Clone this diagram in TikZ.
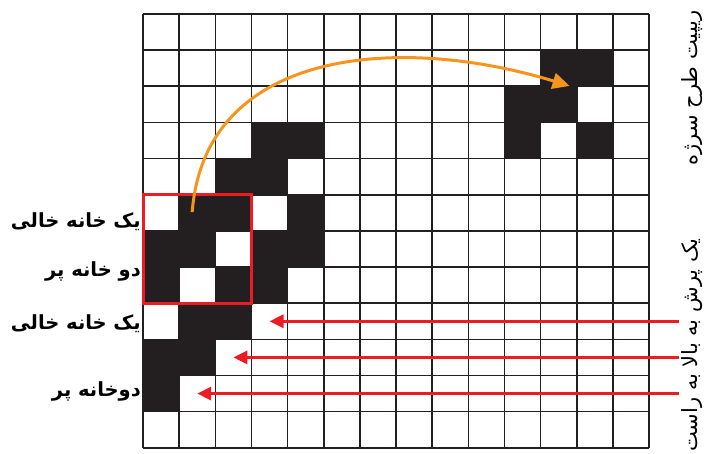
\documentclass[tikz,border=0pt]{standalone}
\usepackage{fontspec}
\setmainfont{DejaVu Sans}
\newfontfamily\farsi[Script=Arabic]{DejaVu Sans}
\TeXXeTstate=1
\usepackage{tikz}
\usetikzlibrary{ positioning, arrows.meta, calc }
\usepackage{xcolor}
\definecolor{cellink}{HTML}{231F20}
\definecolor{jumpred}{HTML}{ED1C24}
\definecolor{repeatorange}{HTML}{F7941D}

\newcommand{\fatext}[1]{{\farsi\beginR #1\endR}}

\begin{document}
\begin{tikzpicture}[x=1pt, y=-1pt,
    every node/.style={inner sep=0pt},
    gridline/.style={cellink, line width=1.6pt},
    rowlbl/.style={anchor=east, font=\fontsize{19.5}{22}\selectfont\bfseries},
    sidelbl/.style={rotate=90, font=\fontsize{21}{24}\selectfont},
    jumparrow/.style={jumpred, line width=3.2pt, -{Triangle[length=14pt, width=13pt]}},
    repeatarrow/.style={repeatorange, line width=3pt, -{Triangle[length=17pt, width=16pt]}}]
  \useasboundingbox (0,0) rectangle (710,454);
  \fill[white] (0,0) rectangle (710,454);

  % pattern cells, one unit = one cell
  \begin{scope}[shift={(143,14)}, x=36.15pt, y=-36.15pt]
    \foreach \c/\r in {11/1,12/1,10/2,11/2,3/3,4/3,10/3,12/3,2/4,3/4,
                       1/5,2/5,4/5,0/6,1/6,3/6,4/6,0/7,2/7,3/7,
                       1/8,2/8,0/9,1/9,0/10}
      \fill[cellink] (\c,\r) rectangle ++(1,1);
    \foreach \i in {0,...,14}
      \draw[gridline] (\i,0) -- (\i,12);
    \foreach \j in {0,...,12}
      \draw[gridline] (0,\j) -- (14,\j);

    % repeated unit
    \draw[jumpred, line width=3pt] (0,5) rectangle (3,8);

    % jump ends
    \coordinate (tipA) at (3.5,8.5);
    \coordinate (tipB) at (2.5,9.5);
    \coordinate (tipC) at (1.5,10.5);
    \coordinate (tailA) at (14.83,8.5);
    \coordinate (tailB) at (14.83,9.5);
    \coordinate (tailC) at (14.83,10.5);
    \coordinate (arcstart) at (1.36,5.48);
    \coordinate (arcend) at (11.8,1.99);
  \end{scope}

  \draw[jumparrow] (tailA) -- (tipA);
  \draw[jumparrow] (tailB) -- (tipB);
  \draw[jumparrow] (tailC) -- (tipC);

  % copy of the unit
  \draw[repeatarrow] (arcstart) .. controls (205,48) and (400,34) .. (arcend);

  % row labels
  \node[rowlbl] (empty1) at (141,222) {\fatext{یک خانه خالی}};
  \node[rowlbl] (full1) at (141,271) {\fatext{دو خانه پر}};
  \node[rowlbl] (empty2) at (141,324) {\fatext{یک خانه خالی}};
  \node[rowlbl] (full2) at (141,391) {\fatext{دوخانه پر}};

  % side notes
  \node[sidelbl] (repeatnote) at (692,88) {\fatext{ریپیت طرح سرژه}};
  \node[sidelbl] (jumpnote) at (692,345) {\fatext{یک پرش به بالا به راست}};
\end{tikzpicture}
\end{document}
